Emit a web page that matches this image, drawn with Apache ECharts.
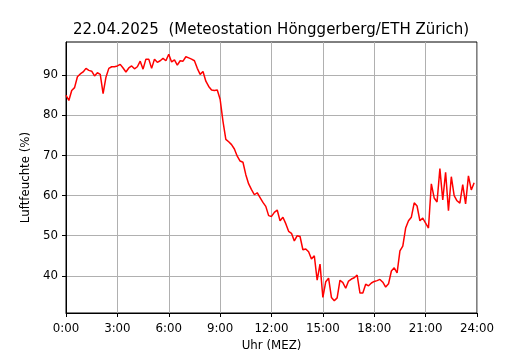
<!DOCTYPE html>
<html>
<head>
<meta charset="utf-8">
<script src="https://cdn.jsdelivr.net/npm/echarts@6/dist/echarts.min.js"></script>
<style>
  html, body { margin: 0; padding: 0; background: #fff; }
  #chart { width: 530px; height: 350px; }
</style>
</head>
<body>
<div id="chart"></div>
<script>
// Luftfeuchte 22.04.2025, 10-Minuten-Werte ab 0:00
var humidity = [
  85.0, 83.7, 86.2, 86.9, 89.6, 90.3, 90.8, 91.7, 91.2, 91.0, 89.8, 90.6,
  90.2, 85.4, 89.5, 91.7, 92.1, 92.1, 92.3, 92.7, 91.8, 90.8, 91.8, 92.3,
  91.6, 92.1, 93.5, 91.5, 94.0, 94.0, 91.7, 94.0, 93.2, 93.6, 94.2, 93.6,
  95.2, 93.3, 93.8, 92.5, 93.6, 93.5, 94.6, 94.3, 94.0, 93.6, 91.7, 90.2,
  90.9, 88.5, 87.2, 86.3, 86.2, 86.3, 84.0, 78.5, 74.0, 73.4, 72.7, 71.6,
  69.8, 68.6, 68.3, 65.2, 62.9, 61.5, 60.2, 60.7, 59.5, 58.3, 57.3, 55.0,
  54.8, 55.8, 56.4, 53.7, 54.6, 53.0, 51.1, 50.6, 48.7, 50.0, 49.8, 46.5,
  46.7, 46.0, 44.2, 45.0, 38.9, 42.9, 34.6, 38.5, 39.4, 34.6, 33.8, 34.5,
  38.9, 38.3, 36.9, 38.7, 39.2, 39.5, 40.2, 35.7, 35.7, 37.9, 37.5, 38.2,
  38.6, 38.8, 39.1, 38.4, 37.2, 38.0, 41.2, 42.0, 40.7, 46.2, 47.4, 51.9,
  53.7, 54.6, 58.2, 57.4, 53.7, 54.4, 53.1, 51.9, 62.9, 59.4, 58.4, 66.7,
  58.9, 65.8, 56.2, 64.7, 60.0, 58.7, 58.1, 62.7, 57.9, 64.9, 61.4, 63.2
];
// Messzeitpunkte in Minuten seit Mitternacht
var minutes = humidity.map(function (v, i) { return i * 10; });
var yTicks = [40, 50, 60, 70, 80, 90];
var yMin = 30.73;
var yMax = 98.27;

var font = "DejaVu Sans";
var chart = echarts.init(document.getElementById("chart"), null, { renderer: "canvas" });

var option = {
  animation: false,
  backgroundColor: "#fff",
  title: {
    text: "22.04.2025  (Meteostation Hönggerberg/ETH Zürich)",
    left: 68,
    top: 18,
    textStyle: { fontFamily: font, fontSize: 15, fontWeight: "normal", color: "#000" }
  },
  grid: {
    left: 66, right: 53, top: 42, bottom: 37,
    outerBoundsMode: "none",
    show: true, borderColor: "#000", borderWidth: 1, backgroundColor: "#fff"
  },
  xAxis: {
    type: "value",
    min: 0, max: 1440, interval: 180,
    name: "Uhr (MEZ)",
    nameLocation: "middle",
    nameGap: 27,
    nameTextStyle: { fontFamily: font, fontSize: 11.8, color: "#000" },
    axisLine: { show: true, lineStyle: { color: "#000", width: 1 } },
    axisTick: { show: true, length: 4, lineStyle: { color: "#000", width: 1 } },
    axisLabel: {
      fontFamily: font, fontSize: 11.8, color: "#000", margin: 10,
      formatter: function (v) { return (v / 60) + ":00"; }
    },
    splitLine: { show: true, lineStyle: { color: "#b0b0b0", width: 1 } }
  },
  yAxis: {
    type: "value",
    min: yMin, max: yMax,
    name: "Luftfeuchte (%)",
    nameLocation: "middle",
    nameGap: 30,
    nameRotate: 90,
    nameTextStyle: { fontFamily: font, fontSize: 11.8, color: "#000" },
    axisLine: { show: true, lineStyle: { color: "#000", width: 1 } },
    axisTick: { show: true, length: 4, customValues: yTicks, lineStyle: { color: "#000", width: 1 } },
    axisLabel: { fontFamily: font, fontSize: 11.8, color: "#000", margin: 8, customValues: yTicks },
    splitLine: { show: true, lineStyle: { color: "#b0b0b0", width: 1 } }
  },
  series: [{
    type: "line",
    data: minutes.map(function (m, i) { return [m, humidity[i]]; }),
    showSymbol: false,
    lineStyle: { color: "#ff0000", width: 1.5 },
    itemStyle: { color: "#ff0000" }
  }]
};
chart.setOption(option);
</script>
</body>
</html>
